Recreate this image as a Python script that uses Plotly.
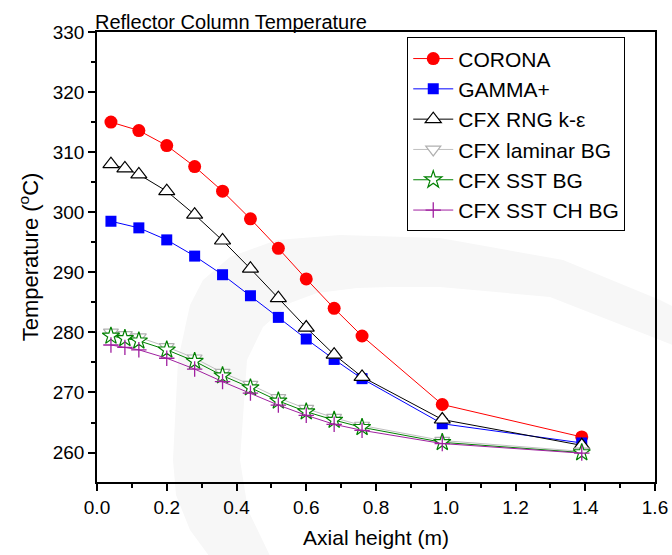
import plotly.graph_objects as go

# ---- data ----
x_short = [0.04, 0.12, 0.20, 0.28, 0.36, 0.44, 0.52, 0.60, 0.68, 0.76, 0.99, 1.39]
x_long = [0.04, 0.08, 0.12, 0.20, 0.28, 0.36, 0.44, 0.52, 0.60, 0.68, 0.76, 0.99, 1.39]

corona = [315.0, 313.6, 311.1, 307.6, 303.5, 298.9, 294.0, 288.9, 284.0, 279.4, 268.0, 262.6]
gamma_plus = [298.5, 297.4, 295.4, 292.7, 289.6, 286.1, 282.5, 278.9, 275.5, 272.3, 264.8, 261.6]
cfx_rng = [308.0, 307.3, 306.3, 303.5, 299.6, 295.3, 290.6, 285.7, 280.8, 276.3, 272.6, 265.5, 261.2]
cfx_laminar = [280.0, 279.6, 279.2, 277.6, 275.7, 273.3, 271.3, 269.1, 267.3, 265.8, 264.5, 262.0, 260.2]
cfx_sst = [279.4, 279.0, 278.6, 277.1, 275.2, 272.8, 270.8, 268.6, 266.8, 265.4, 264.2, 261.7, 260.0]
cfx_sst_ch = [277.9, 277.5, 277.1, 275.7, 273.9, 271.8, 269.9, 267.9, 266.2, 264.7, 263.7, 261.5, 259.9]

series_names = ["CORONA", "GAMMA+", "CFX RNG k-ε", "CFX laminar BG", "CFX SST BG", "CFX SST CH BG"]

FONT = "Liberation Sans, Arial, sans-serif"

fig = go.Figure()

specs = [
    (x_short, corona, "#ff0000", dict(symbol="circle", size=13, color="#ff0000", line=dict(width=0))),
    (x_short, gamma_plus, "#0000ff", dict(symbol="square", size=11, color="#0000ff", line=dict(width=0))),
    (x_long, cfx_rng, "#000000", dict(symbol="triangle-up", size=14, color="white", line=dict(color="#000000", width=1.2))),
    (x_long, cfx_laminar, "#c0c0c0", dict(symbol="triangle-down", size=13, color="white", line=dict(color="#b0b0b0", width=1.2))),
    (x_long, cfx_sst, "#008000", dict(symbol="star", size=13, color="white", line=dict(color="#008000", width=1.2))),
    (x_long, cfx_sst_ch, "#a020a0", dict(symbol="cross-thin", size=11, color="#a020a0", line=dict(color="#a020a0", width=1.3))),
]

for name, (xs, ys, col, mk) in zip(series_names, specs):
    fig.add_trace(go.Scatter(
        x=xs, y=ys, name=name, mode="lines+markers",
        line=dict(color=col, width=1),
        marker=mk,
    ))

# faint watermark swoosh in background (pixel -> paper)
L, R, T, B = 97, 655, 32, 482
def px(x, y):
    return (x - L) / (R - L), (B - y) / (B - T)

outer = [(212, 560), (190, 530), (176, 495), (173, 460), (178, 360), (190, 305), (203, 280),
         (230, 257), (277, 240), (340, 235), (440, 238), (563, 260), (660, 300), (680, 310)]
inner = [(690, 352), (660, 340), (550, 297), (440, 287), (390, 287), (357, 288), (317, 293),
         (290, 303), (263, 327), (247, 360), (240, 460), (248, 510), (272, 560)]
pts = [px(*p) for p in outer + inner]
path = "M " + " L ".join(f"{a:.4f},{b:.4f}" for a, b in pts) + " Z"
fig.add_shape(type="path", path=path, xref="paper", yref="paper",
              fillcolor="#f7f7f7", line=dict(width=0), layer="below")

fig.add_annotation(text="Reflector Column Temperature", x=0, y=1, xref="paper", yref="paper",
                   xanchor="left", yanchor="bottom", showarrow=False,
                   font=dict(family=FONT, size=20, color="black"), xshift=-4, yshift=-3)

axis_common = dict(
    showline=True, linecolor="black", linewidth=1.5, mirror=True,
    ticks="outside", ticklen=7, tickwidth=1.5, tickcolor="black",
    showgrid=False, zeroline=False, automargin=False,
    tickfont=dict(family=FONT, size=19, color="black"),
)

fig.update_xaxes(
    range=[0, 1.6], tick0=0, dtick=0.2, tickformat=".1f",
    minor=dict(ticks="outside", ticklen=4, tickwidth=1.5, tickcolor="black", dtick=0.1),
    title=dict(text="Axial height (m)", font=dict(family=FONT, size=21, color="black"), standoff=14),
    ticklabelstandoff=0,
    **axis_common,
)
fig.update_yaxes(
    range=[255.1, 330], tick0=260, dtick=10,
    minor=dict(ticks="outside", ticklen=4, tickwidth=1.5, tickcolor="black", dtick=5, tick0=255),
    title=dict(text="Temperature (<sup>o</sup>C)", font=dict(family=FONT, size=22, color="black"), standoff=8),
    **axis_common,
)

fig.update_layout(
    width=672, height=555,
    margin=dict(l=97, r=17, t=32, b=73),
    paper_bgcolor="white", plot_bgcolor="rgba(0,0,0,0)",
    showlegend=True,
    legend=dict(
        x=0.556, y=0.988, xanchor="left", yanchor="top",
        bgcolor="white", bordercolor="black", borderwidth=1,
        font=dict(family=FONT, size=21, color="black"),
        tracegroupgap=0, itemwidth=40,
    ),
)

fig.write_html("out.html")
